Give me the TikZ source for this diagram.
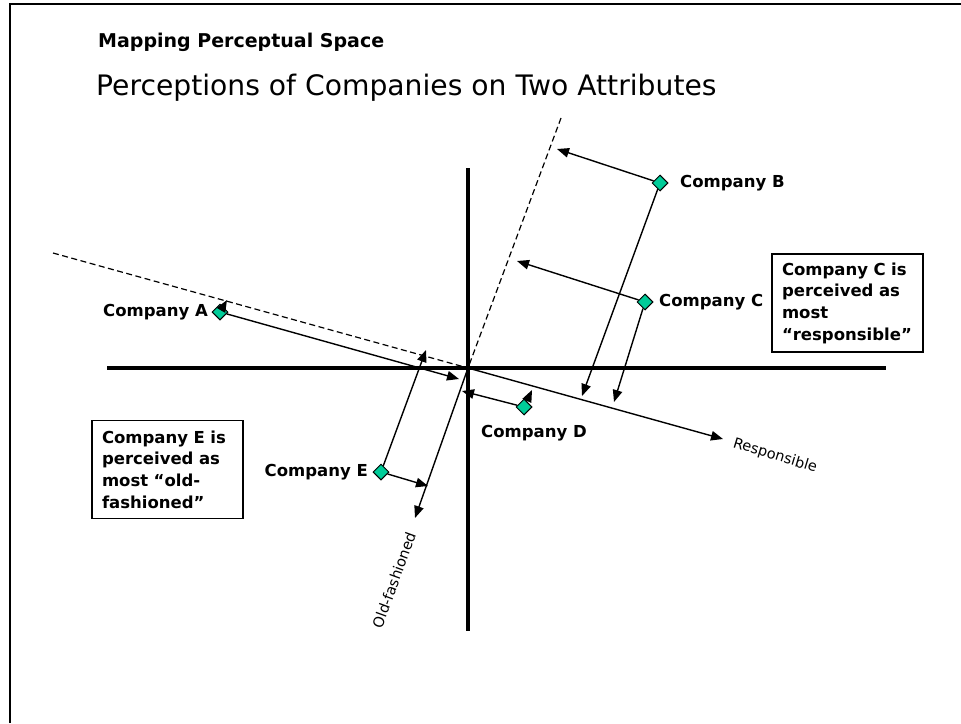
\documentclass[tikz,border=0pt]{standalone}
\usepackage{fontspec}
\setmainfont{DejaVu Sans}
\usetikzlibrary{shapes.geometric,arrows.meta,positioning}
\definecolor{markgreen}{RGB}{0,204,153}
\begin{document}
\begin{tikzpicture}[x=1pt, y=-1pt,
    company/.style={draw, diamond, fill=markgreen, line width=1pt,
        inner sep=0pt, minimum size=16pt},
    companylabel/.style={inner sep=2pt,
        font=\fontsize{16.5}{20}\selectfont\bfseries},
    projarrow/.style={line width=1.4pt, -{Triangle[length=12pt,width=9.5pt]}},
    axisline/.style={line width=3.8pt},
    dashline/.style={line width=1.2pt, dash pattern=on 6pt off 3.5pt},
    axislabel/.style={inner sep=0pt, font=\fontsize{14.5}{16}\selectfont},
    note/.style={draw, line width=1.5pt, text width=131pt, align=left,
        inner xsep=10pt, inner ysep=4pt, minimum height=98pt,
        font=\fontsize{16.5}{21.7}\selectfont\bfseries}
]
\useasboundingbox (0,0) rectangle (961,723);
\draw[line width=2pt] (10,723) -- (10,4) -- (961,4);

\node[anchor=base west, inner sep=0pt,
    font=\fontsize{19}{22}\selectfont\bfseries] (head) at (98,47) {Mapping Perceptual Space};
\node[anchor=base west, inner sep=0pt,
    font=\fontsize{28.2}{32}\selectfont] (title) at (96,95) {Perceptions of Companies on Two Attributes};

% axes
\coordinate (O) at (468,368);
\coordinate (hL) at (107,368);
\coordinate (hR) at (886,368);
\coordinate (vT) at (468,168);
\coordinate (vB) at (468,631);
\coordinate (rD) at (53,253);
\coordinate (rA) at (723,439);
\coordinate (oD) at (561,118);
\coordinate (oA) at (415,518);
\draw[axisline] (hL) -- (hR);
\draw[axisline] (vT) -- (vB);
\draw[dashline] (rD) -- (O);
\draw[dashline] (oD) -- (O);
\draw[projarrow] (O) -- (rA);
\draw[projarrow] (O) -- (oA);
\node[axislabel, rotate=-17] (resp) at (775,456) {Responsible};
\node[axislabel, rotate=70] (oldf) at (394,580) {Old-fashioned};

\foreach\name/\x/\y in{A/220/312, B/660/183, C/645/302, D/524/407, E/381/472}{
    \node[company] (\name) at (\x, \y) {};
}
\foreach\from/\to/\x/\y in{A/Ar/227/300, A/Ao/459/379, B/Bo/557/149, B/Br/582/396,
    C/Co/517/261, C/Cr/614/402, D/Do/462/391, D/Dr/532/390, E/Er/426/350, E/Eo/428/486}{
    \coordinate (\to) at (\x, \y);
    \draw[projarrow] (\from) -- (\to);
}

\node[companylabel, left=1.5pt of A] (labA) {Company A};
\node[companylabel, right=9.5pt of B] (labB) {Company B};
\node[companylabel, right=3.5pt of C] (labC) {Company C};
\node[companylabel, below=8pt of D, xshift=10pt] (labD) {Company D};
\node[companylabel, left=2.5pt of E] (labE) {Company E};

\node[note] (noteC) at (847.5,303) {Company C is\\perceived as\\most\\“responsible”};
\node[note] (noteE) at (167.5,469.5) {Company E is\\perceived as\\most “old-\\fashioned”};
%\draw (noteC) -- (C);
\end{tikzpicture}
\end{document}
